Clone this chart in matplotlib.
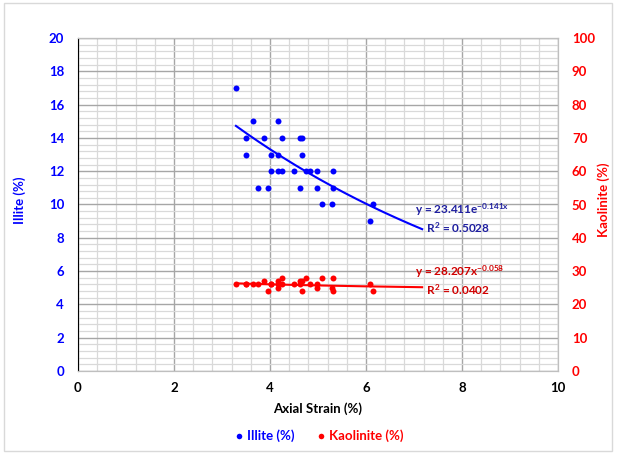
import numpy as np
import matplotlib
matplotlib.use("Agg")
import matplotlib.pyplot as plt
from matplotlib.lines import Line2D
from matplotlib.patches import Rectangle

plt.rcParams['font.family'] = ['Lato', 'DejaVu Sans']
plt.rcParams['mathtext.fontset'] = 'custom'
plt.rcParams['mathtext.rm'] = 'Lato'
plt.rcParams['mathtext.it'] = 'Lato'
plt.rcParams['mathtext.default'] = 'regular'

# ---- data ----
strain_illite = [3.29, 3.64, 4.16, 3.51, 3.88, 4.24, 4.63, 4.67, 3.51, 4.03, 4.17, 4.67,
                 4.03, 4.17, 4.26, 4.50, 4.75, 4.83, 4.97, 5.31, 3.74, 3.96, 4.63, 4.97,
                 5.31, 5.09, 5.30, 6.14, 6.08]
illite = [17, 15, 15, 14, 14, 14, 14, 14, 13, 13, 13, 13,
          12, 12, 12, 12, 12, 12, 12, 12, 11, 11, 11, 11,
          11, 10, 10, 10, 9]
strain_kaol = [3.29, 3.64, 4.16, 3.51, 3.88, 4.24, 4.63, 4.67, 3.51, 4.03, 4.17, 4.67,
               4.03, 4.17, 4.26, 4.50, 4.75, 4.83, 4.97, 5.31, 3.74, 3.96, 4.63, 4.97,
               5.31, 5.09, 5.30, 6.14, 6.08]
kaolinite = [26, 26, 27, 26, 27, 26, 27, 24, 26, 26, 25, 27,
             26, 26, 28, 26, 28, 26, 25, 24, 26, 24, 26, 26,
             28, 28, 25, 24, 26]
# trendline coefficients (as labelled)
ill_a, ill_b = 23.411, -0.141      # exponential
kao_a, kao_b = 28.207, -0.058      # power
trend_range = (3.29, 7.17)

BLUE = '#0000ff'
RED = '#ff0000'

fig = plt.figure(figsize=(6.17, 4.53), dpi=100)
ax = fig.add_axes([78/617, 1-371/453, 480/617, 333/453])
ax2 = ax.twinx()

ax.set_xlim(0, 10)
ax.set_ylim(0, 20)
ax2.set_ylim(0, 100)

ax.set_xticks(np.arange(0, 10.1, 2))
ax.set_xticks(np.arange(0, 10.01, 0.4), minor=True)
ax.set_yticks(np.arange(0, 20.1, 2))
ax.set_yticks(np.arange(0, 20.01, 0.4), minor=True)
ax2.set_yticks(np.arange(0, 100.1, 10))

ax.grid(True, which='major', color='#a6a6a6', lw=1.0, zorder=0)
ax.grid(True, which='minor', color='#d9d9d9', lw=0.9, zorder=0)
ax.set_axisbelow(True)

ax.tick_params(which='both', length=0)
ax2.tick_params(which='both', length=0)
ax.tick_params(axis='y', colors=BLUE, labelsize=9.5, pad=10)
ax.tick_params(axis='x', colors='black', labelsize=9.5, pad=8)
ax2.tick_params(axis='y', colors=RED, labelsize=9.5, pad=10)
for lab in ax.get_xticklabels() + ax.get_yticklabels() + ax2.get_yticklabels():
    lab.set_fontweight('bold')

for sp in ['top', 'right', 'bottom']:
    ax.spines[sp].set_color('#bfbfbf')
    ax2.spines[sp].set_color('#bfbfbf')
ax.spines['left'].set_color('black')
ax2.spines['left'].set_visible(False)
ax.spines['top'].set_color('#808080')

# scatter
ax.plot(strain_illite, illite, 'o', color=BLUE, ms=4.3, mew=0, zorder=3)
ax2.plot(strain_kaol, kaolinite, 'o', color=RED, ms=4.3, mew=0, zorder=3)

# trendlines
xt = np.linspace(trend_range[0], trend_range[1], 200)
ax.plot(xt, ill_a*np.exp(ill_b*xt), color=BLUE, lw=1.5, zorder=4)
ax2.plot(xt, kao_a*xt**kao_b, color=RED, lw=1.5, zorder=4)

# equations
ax.text(7.02, 9.2, 'y = 23.411e$^{-0.141x}$\n    R$^2$ = 0.5028', color='#1f1fa0',
        fontsize=8.5, fontweight='bold', ha='left', va='center', multialignment='left',
        linespacing=1.2)
ax2.text(7.02, 27.3, 'y = 28.207x$^{-0.058}$\n    R$^2$ = 0.0402', color='#d00000',
         fontsize=8.5, fontweight='bold', ha='left', va='center', multialignment='left',
         linespacing=1.2)

# axis titles
ax.set_xlabel('Axial Strain (%)', fontsize=9.5, fontweight='bold', labelpad=6)
fig.text(20/617, 1-200/453, 'Illite (%)', color=BLUE, fontsize=9.5, fontweight='bold',
         rotation=90, ha='center', va='center')
fig.text(604/617, 1-200/453, 'Kaolinite (%)', color=RED, fontsize=9.5, fontweight='bold',
         rotation=90, ha='center', va='center')

handles = [Line2D([], [], marker='o', ls='none', color=BLUE, ms=4, mew=0),
           Line2D([], [], marker='o', ls='none', color=RED, ms=4, mew=0)]
leg = fig.legend(handles, ['Illite (%)', 'Kaolinite (%)'], loc='center',
                 bbox_to_anchor=(318/617, 1-436/453), ncol=2, frameon=False,
                 fontsize=9.5, handletextpad=0.1, columnspacing=1.5, handlelength=1.0)
for t, c in zip(leg.get_texts(), [BLUE, RED]):
    t.set_color(c)
    t.set_fontweight('bold')

fig.patches.append(Rectangle((4/617, 2/453), 608/617, 448/453, transform=fig.transFigure,
                             fill=False, edgecolor='#d9d9d9', lw=1))

fig.savefig('out.png', dpi=100)
